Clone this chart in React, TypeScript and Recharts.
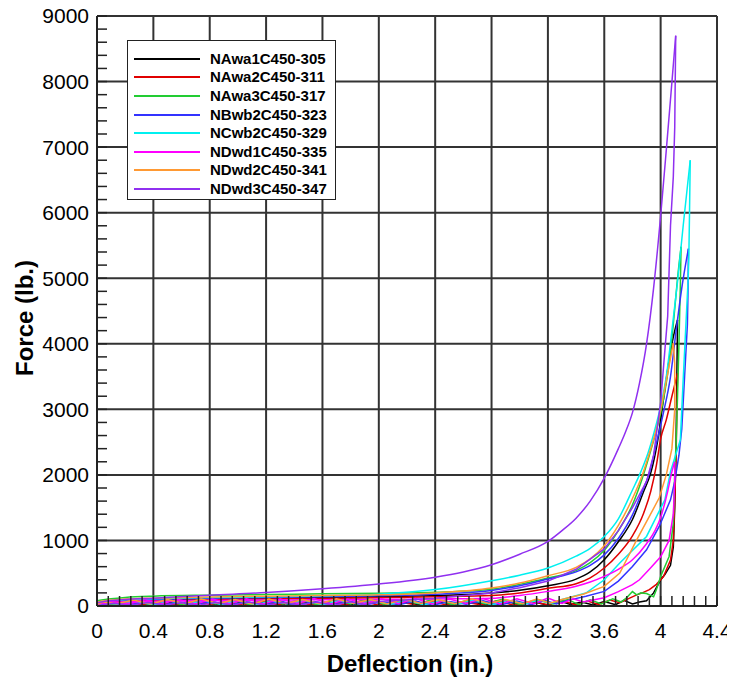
import React from 'react';
import { LineChart, Line, XAxis, YAxis, CartesianGrid, ReferenceLine } from 'recharts';

type Pt = [number, number];

// axis ticks
const xMajor = [0, 0.4, 0.8, 1.2, 1.6, 2, 2.4, 2.8, 3.2, 3.6, 4, 4.4];
const yMajor = [0, 1000, 2000, 3000, 4000, 5000, 6000, 7000, 8000, 9000];
const xMinor = Array.from({ length: 56 }, (_, i) => +(i * 0.08).toFixed(2));
const yMinor = Array.from({ length: 46 }, (_, i) => i * 200);

// [deflection, force]; *Load = loading up to the peak, *Unload = unloading + return near zero
const NAwa1Load: Pt[] = [
  [0, 40], [0.1, 70], [0.2, 85], [0.4, 95], [0.8, 110], [1.2, 118], [1.6, 128], [2.0, 140], [2.4, 160],
  [2.8, 198], [3.0, 240], [3.2, 310], [3.4, 410], [3.5, 520], [3.6, 706], [3.7, 980], [3.8, 1320],
  [3.88, 1750], [3.93, 2030], [3.98, 2535], [4.02, 3150], [4.06, 3750], [4.1, 4200], [4.12, 4364],
];
const NAwa1Unload: Pt[] = [
  [4.12, 4364], [4.115, 3500], [4.11, 2500], [4.1, 1500], [4.09, 900], [4.07, 620], [4.03, 480], [4.0, 400],
  [3.95, 200], [3.9, 80], [3.85, 60], [3.8, 30], [3.74, 85], [3.68, 20], [3.6, 70], [3.52, 15],
  [3.44, 60], [3.36, 25], [3.28, 80], [3.2, 10], [3.1, 65], [3.0, 20], [2.9, 75], [2.78, 15],
  [2.66, 60], [2.54, 25], [2.42, 70], [2.3, 10], [2.18, 65], [2.06, 20], [1.94, 75], [1.82, 15],
  [1.7, 60], [1.58, 20], [1.46, 70], [1.34, 10], [1.22, 60], [1.1, 25], [0.98, 70], [0.86, 15],
  [0.74, 65], [0.62, 20], [0.5, 60], [0.38, 10], [0.26, 55], [0.14, 15], [0.04, 40], [0, 0],
];

const NAwa2Load: Pt[] = [
  [0, 30], [0.1, 60], [0.2, 75], [0.4, 82], [0.8, 100], [1.2, 108], [1.6, 115], [2.0, 125], [2.4, 140],
  [2.8, 160], [3.0, 200], [3.2, 270], [3.4, 340], [3.5, 430], [3.6, 580], [3.7, 790], [3.8, 1070],
  [3.88, 1420], [3.93, 1750], [3.97, 2150], [4.0, 2550], [4.04, 2840], [4.08, 3200], [4.12, 3550],
];
const NAwa2Unload: Pt[] = [
  [4.12, 3550], [4.115, 3000], [4.11, 2300], [4.1, 1600], [4.09, 1000], [4.07, 700], [4.02, 450], [3.97, 330],
  [3.92, 250], [3.87, 200], [3.83, 170], [3.78, 120], [3.71, 50], [3.64, 90], [3.56, 25], [3.48, 75],
  [3.4, 15], [3.3, 85], [3.2, 20], [3.08, 70], [2.96, 10], [2.84, 80], [2.72, 20], [2.6, 65],
  [2.48, 15], [2.36, 75], [2.24, 25], [2.12, 70], [2.0, 10], [1.88, 80], [1.76, 20], [1.64, 60],
  [1.52, 15], [1.4, 70], [1.28, 20], [1.16, 75], [1.04, 10], [0.92, 65], [0.8, 25], [0.68, 70],
  [0.56, 15], [0.44, 60], [0.32, 20], [0.2, 55], [0.08, 10], [0, 30],
];

const NAwa3Load: Pt[] = [
  [0, 80], [0.1, 110], [0.2, 130], [0.4, 150], [0.8, 165], [1.2, 175], [1.6, 185], [2.0, 195], [2.4, 210],
  [2.8, 255], [3.0, 330], [3.2, 427], [3.4, 540], [3.5, 660], [3.6, 850], [3.7, 1150], [3.8, 1545],
  [3.87, 1950], [3.92, 2300], [3.97, 2680], [4.02, 3150], [4.06, 3700], [4.09, 4300], [4.12, 5000],
  [4.145, 5480],
];
const NAwa3Unload: Pt[] = [
  [4.145, 5480], [4.14, 4900], [4.13, 4000], [4.12, 3200], [4.11, 2500], [4.1, 2030], [4.09, 1265], [4.06, 756],
  [4.0, 450], [3.97, 250], [3.95, 140], [3.9, 190], [3.86, 200], [3.83, 170], [3.8, 220], [3.76, 130],
  [3.72, 60], [3.66, 110], [3.58, 30], [3.5, 95], [3.42, 20], [3.34, 100], [3.24, 30], [3.12, 90],
  [3.0, 25], [2.88, 105], [2.76, 30], [2.64, 95], [2.52, 20], [2.4, 110], [2.28, 35], [2.16, 95],
  [2.04, 25], [1.92, 105], [1.8, 30], [1.68, 90], [1.56, 20], [1.44, 100], [1.32, 30], [1.2, 95],
  [1.08, 25], [0.96, 100], [0.84, 30], [0.72, 90], [0.6, 20], [0.48, 95], [0.36, 30], [0.24, 80],
  [0.12, 20], [0, 50],
];

const NBwb2Load: Pt[] = [
  [0, 50], [0.1, 80], [0.2, 90], [0.4, 100], [0.8, 118], [1.2, 128], [1.6, 140], [2.0, 155], [2.4, 180],
  [2.8, 238], [3.0, 310], [3.2, 411], [3.4, 520], [3.5, 620], [3.6, 780], [3.7, 1030], [3.8, 1390],
  [3.87, 1750], [3.92, 2030], [3.97, 2480], [4.02, 2950], [4.07, 3500], [4.11, 4200], [4.15, 4850],
  [4.197, 5450],
];
const NBwb2Unload: Pt[] = [
  [4.197, 5450], [4.195, 4900], [4.19, 4300], [4.17, 3500], [4.15, 2700], [4.13, 2300], [4.1, 1900], [4.07, 1620],
  [3.99, 1213], [3.9, 858], [3.8, 604], [3.7, 380], [3.6, 223], [3.47, 150], [3.35, 90], [3.26, 30],
  [3.18, 85], [3.08, 20], [2.98, 75], [2.86, 15], [2.74, 80], [2.62, 25], [2.5, 70], [2.38, 10],
  [2.26, 75], [2.14, 20], [2.02, 65], [1.9, 15], [1.78, 80], [1.66, 25], [1.54, 70], [1.42, 10],
  [1.3, 75], [1.18, 20], [1.06, 65], [0.94, 15], [0.82, 70], [0.7, 25], [0.58, 65], [0.46, 10],
  [0.34, 60], [0.22, 20], [0.1, 45], [0, 15],
];

const NCwb2Load: Pt[] = [
  [0, 50], [0.1, 80], [0.2, 95], [0.4, 110], [0.8, 128], [1.2, 140], [1.6, 155], [2.0, 180], [2.4, 250],
  [2.8, 386], [3.0, 470], [3.2, 580], [3.4, 760], [3.5, 880], [3.6, 1060], [3.7, 1330], [3.8, 1770],
  [3.86, 2050], [3.91, 2330], [3.96, 2700], [4.0, 3050], [4.04, 3500], [4.08, 4200], [4.12, 4950],
  [4.16, 5800], [4.21, 6800],
];
const NCwb2Unload: Pt[] = [
  [4.21, 6800], [4.205, 6000], [4.2, 5300], [4.195, 4975], [4.16, 3450], [4.14, 2535], [4.07, 2050], [4.03, 1620],
  [3.9, 1061], [3.71, 655], [3.6, 400], [3.47, 198], [3.3, 100], [3.22, 40], [3.14, 95], [3.04, 30],
  [2.92, 85], [2.8, 20], [2.68, 90], [2.56, 30], [2.44, 80], [2.32, 20], [2.2, 90], [2.08, 25],
  [1.96, 85], [1.84, 30], [1.72, 80], [1.6, 20], [1.48, 85], [1.36, 30], [1.24, 75], [1.12, 20],
  [1.0, 85], [0.88, 25], [0.76, 80], [0.64, 30], [0.52, 75], [0.4, 20], [0.28, 70], [0.16, 25],
  [0.06, 50], [0, 10],
];

const NDwd1Load: Pt[] = [
  [0, 40], [0.1, 55], [0.2, 65], [0.4, 72], [0.8, 85], [1.2, 90], [1.6, 95], [2.0, 100], [2.4, 108],
  [2.8, 118], [3.0, 160], [3.2, 223], [3.4, 300], [3.5, 365], [3.6, 451], [3.7, 560], [3.8, 706],
  [3.9, 950], [3.96, 1150], [4.0, 1350], [4.05, 1750], [4.08, 2050], [4.1, 2200],
];
const NDwd1Unload: Pt[] = [
  [4.1, 2200], [4.1, 1900], [4.09, 1400], [4.06, 1000], [4.0, 750], [3.92, 560], [3.85, 400], [3.8, 325],
  [3.7, 220], [3.6, 127], [3.45, 60], [3.38, 110], [3.3, 40], [3.2, 120], [3.1, 35], [2.98, 110],
  [2.86, 30], [2.74, 115], [2.62, 40], [2.5, 105], [2.38, 30], [2.26, 115], [2.14, 35], [2.02, 110],
  [1.9, 40], [1.78, 105], [1.66, 30], [1.54, 115], [1.42, 40], [1.3, 105], [1.18, 30], [1.06, 110],
  [0.94, 35], [0.82, 105], [0.7, 30], [0.58, 100], [0.46, 35], [0.34, 95], [0.22, 30], [0.1, 70],
  [0, 20],
];

const NDwd2Load: Pt[] = [
  [0, 60], [0.1, 90], [0.2, 105], [0.4, 120], [0.8, 138], [1.2, 150], [1.6, 160], [2.0, 170], [2.4, 200],
  [2.8, 274], [3.0, 350], [3.2, 462], [3.4, 590], [3.5, 720], [3.6, 920], [3.7, 1230], [3.8, 1640],
  [3.87, 2000], [3.92, 2330], [3.97, 2700], [4.01, 3100], [4.05, 3550], [4.09, 4010],
];
const NDwd2Unload: Pt[] = [
  [4.09, 4010], [4.1, 3700], [4.1, 3000], [4.08, 2400], [4.04, 2000], [3.99, 1650], [3.92, 1366], [3.83, 1010],
  [3.71, 503], [3.6, 299], [3.45, 180], [3.3, 100], [3.22, 45], [3.12, 105], [3.02, 35], [2.9, 100],
  [2.78, 40], [2.66, 110], [2.54, 35], [2.42, 100], [2.3, 40], [2.18, 105], [2.06, 30], [1.94, 100],
  [1.82, 40], [1.7, 110], [1.58, 35], [1.46, 100], [1.34, 40], [1.22, 105], [1.1, 30], [0.98, 100],
  [0.86, 40], [0.74, 105], [0.62, 35], [0.5, 100], [0.38, 30], [0.26, 90], [0.14, 35], [0.04, 60],
  [0, 20],
];

const NDwd3Load: Pt[] = [
  [0, 50], [0.1, 85], [0.2, 100], [0.4, 120], [0.8, 165], [1.2, 205], [1.6, 262], [2.0, 335], [2.4, 440],
  [2.6, 520], [2.8, 630], [3.0, 790], [3.2, 985], [3.3, 1150], [3.4, 1340], [3.5, 1600], [3.6, 1950],
  [3.7, 2400], [3.75, 2650], [3.8, 2950], [3.85, 3400], [3.9, 4000], [3.95, 4850], [4.0, 5950],
  [4.04, 6950], [4.08, 7990], [4.107, 8700],
];
const NDwd3Unload: Pt[] = [
  [4.107, 8700], [4.1, 7300], [4.09, 6550], [4.07, 5800], [4.05, 4420], [4.03, 3900], [4.0, 3100], [3.95, 2300],
  [3.9, 1900], [3.8, 1500], [3.7, 1150], [3.6, 870], [3.4, 560], [3.2, 380], [3.0, 280], [2.8, 200],
  [2.4, 120], [2.0, 70], [1.9, 20], [1.8, 65], [1.68, 10], [1.56, 60], [1.44, 15], [1.32, 55],
  [1.2, 10], [1.08, 60], [0.96, 15], [0.84, 55], [0.72, 10], [0.6, 50], [0.48, 15], [0.36, 55],
  [0.24, 10], [0.12, 40], [0, 5],
];

const names = [
  'NAwa1C450-305', 'NAwa2C450-311', 'NAwa3C450-317', 'NBwb2C450-323',
  'NCwb2C450-329', 'NDwd1C450-335', 'NDwd2C450-341', 'NDwd3C450-347',
];
const colors = ['#000000', '#e00000', '#22cc33', '#3333ff', '#00f0f0', '#ff00ff', '#ff9933', '#9030f0'];
const loads = [NAwa1Load, NAwa2Load, NAwa3Load, NBwb2Load, NCwb2Load, NDwd1Load, NDwd2Load, NDwd3Load];
const unloads = [NAwa1Unload, NAwa2Unload, NAwa3Unload, NBwb2Unload, NCwb2Unload, NDwd1Unload, NDwd2Unload, NDwd3Unload];

const toRows = (pts: Pt[]) => pts.map(([x, y]) => ({ x, y }));

const series = names.map((name, i) => ({
  name,
  color: colors[i],
  load: toRows(loads[i]),
  unload: toRows(unloads[i]),
}));

const FONT = '"Liberation Sans", Arial, sans-serif';

const fmtX = (v: number) => (xMajor.some((m) => Math.abs(m - v) < 1e-6) ? String(+v.toFixed(1)) : '');
const fmtY = (v: number) => (yMajor.includes(v) ? String(v) : '');

export default function App() {
  return (
    <div style={{ position: 'relative', width: 735, height: 684, margin: '-8px 0 0 -8px', fontFamily: FONT, background: '#fff' }}>
      <LineChart width={735} height={684} margin={{ top: 16, right: 18, left: 37, bottom: 48 }}>
        <CartesianGrid stroke="#333" strokeWidth={2} horizontalValues={yMajor} verticalValues={xMajor} />
        <XAxis
          dataKey="x"
          type="number"
          domain={[0, 4.4]}
          allowDataOverflow
          ticks={xMinor}
          interval={0}
          tickFormatter={fmtX}
          tickSize={-10}
          tickMargin={27}
          height={30}
          axisLine={{ stroke: '#222', strokeWidth: 2 }}
          tickLine={{ stroke: '#222', strokeWidth: 1.5 }}
          tick={{ fill: '#000', fontSize: 21, fontFamily: FONT }}
        />
        <YAxis
          dataKey="y"
          type="number"
          domain={[0, 9000]}
          allowDataOverflow
          ticks={yMinor}
          interval={0}
          tickFormatter={fmtY}
          tickSize={-10}
          tickMargin={18}
          width={60}
          axisLine={{ stroke: '#222', strokeWidth: 2 }}
          tickLine={{ stroke: '#222', strokeWidth: 1.5 }}
          tick={{ fill: '#000', fontSize: 21, fontFamily: FONT }}
        />
        <ReferenceLine y={9000} stroke="#333" strokeWidth={2} />
        <ReferenceLine x={4.4} stroke="#333" strokeWidth={2} />
        {series.flatMap((s) => [
          <Line
            key={s.name + '-load'}
            data={s.load}
            dataKey="y"
            name={s.name}
            type="monotone"
            stroke={s.color}
            strokeWidth={1.5}
            dot={false}
            activeDot={false}
            isAnimationActive={false}
          />,
          <Line
            key={s.name + '-unload'}
            data={s.unload}
            dataKey="y"
            name={s.name + ' unload'}
            type="linear"
            stroke={s.color}
            strokeWidth={1.5}
            dot={false}
            activeDot={false}
            isAnimationActive={false}
          />,
        ])}
      </LineChart>

      {/* legend box */}
      <div
        style={{
          position: 'absolute',
          left: 127,
          top: 40,
          width: 209,
          height: 160,
          boxSizing: 'border-box',
          border: '1px solid #222',
          background: '#fff',
        }}
      >
        {series.map((s, i) => (
          <div
            key={s.name}
            style={{ position: 'absolute', left: 0, top: 17.7 + i * 18.6 - 9, height: 18, width: '100%' }}
          >
            <div style={{ position: 'absolute', left: 6, top: 8, width: 66, height: 2, background: s.color }} />
            <div
              style={{ position: 'absolute', left: 82, top: 0, lineHeight: '18px', fontSize: 15, fontWeight: 'bold', color: '#000', whiteSpace: 'nowrap' }}
            >
              {s.name}
            </div>
          </div>
        ))}
      </div>

      {/* axis titles */}
      <div
        style={{
          position: 'absolute',
          left: 25,
          top: 318,
          transform: 'translate(-50%, -50%) rotate(-90deg)',
          fontSize: 24,
          fontWeight: 'bold',
          whiteSpace: 'nowrap',
          color: '#000',
        }}
      >
        Force (lb.)
      </div>
      <div
        style={{
          position: 'absolute',
          left: 410,
          top: 664,
          transform: 'translate(-50%, -50%)',
          fontSize: 24,
          fontWeight: 'bold',
          whiteSpace: 'nowrap',
          color: '#000',
        }}
      >
        Deflection (in.)
      </div>
    </div>
  );
}
